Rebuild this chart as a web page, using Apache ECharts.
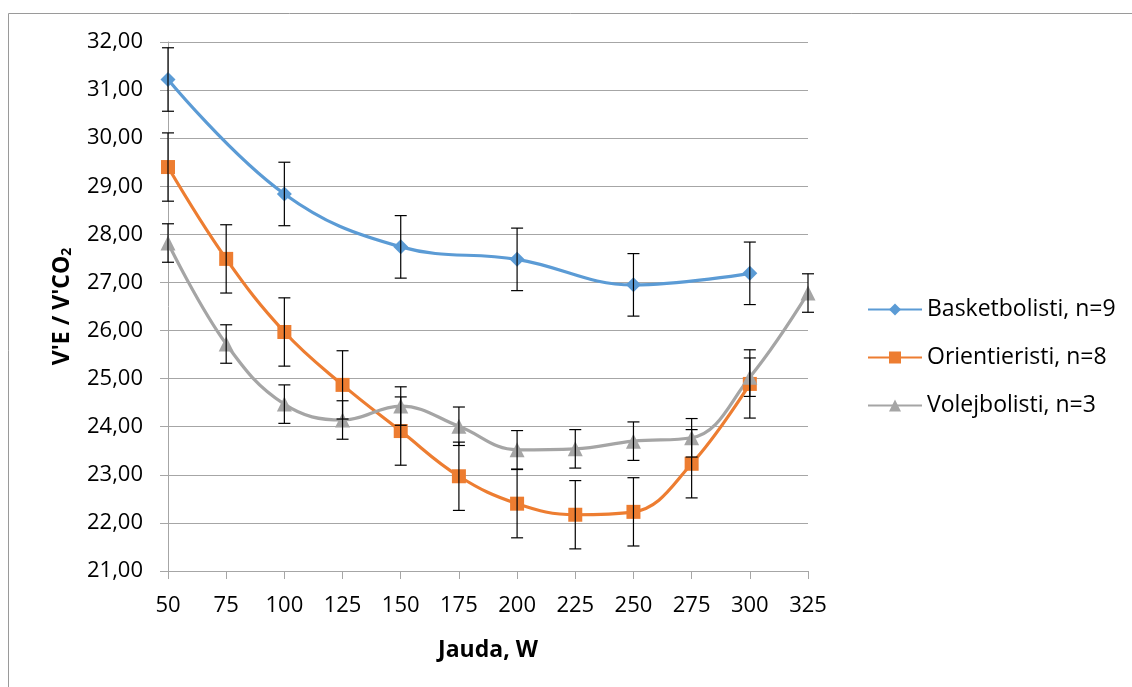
<!DOCTYPE html>
<html>
<head>
<meta charset="utf-8">
<script src="https://cdn.jsdelivr.net/npm/echarts@6/dist/echarts.min.js"></script>
<style>
html,body{margin:0;padding:0;background:#fff;}
#c{width:1132px;height:687px;}
</style>
</head>
<body>
<div id="c"></div>
<script>
// Data
var seriesNames = ['Basketbolisti, n=9', 'Orientieristi, n=8', 'Volejbolisti, n=3'];
var xTicks = [50, 75, 100, 125, 150, 175, 200, 225, 250, 275, 300, 325];

var basketX = [50, 100, 150, 200, 250, 300];
var basketY = [31.22, 28.84, 27.74, 27.48, 26.95, 27.19];
var basketErr = [0.66, 0.66, 0.65, 0.65, 0.65, 0.65];

var orientX = [50, 75, 100, 125, 150, 175, 200, 225, 250, 275, 300];
var orientY = [29.40, 27.49, 25.97, 24.87, 23.91, 22.97, 22.40, 22.17, 22.23, 23.23, 24.89];
var orientErr = [0.71, 0.71, 0.71, 0.71, 0.71, 0.71, 0.71, 0.71, 0.71, 0.71, 0.71];

var volejX = [50, 75, 100, 125, 150, 175, 200, 225, 250, 275, 300, 325];
var volejY = [27.82, 25.72, 24.47, 24.14, 24.43, 24.01, 23.52, 23.54, 23.70, 23.77, 25.03, 26.78];
var volejErr = [0.40, 0.40, 0.40, 0.40, 0.40, 0.40, 0.40, 0.40, 0.40, 0.40, 0.40, 0.40];

var colors = ['#5B9BD5', '#ED7D31', '#A5A5A5'];
var font = '"Open Sans", Lato, sans-serif';

function pairs(xs, ys) { return xs.map(function (x, i) { return [x, ys[i]]; }); }
function errData(xs, ys, es) { return xs.map(function (x, i) { return [x, ys[i] - es[i], ys[i] + es[i]]; }); }

function errRender(params, api) {
  var x = api.value(0);
  var lo = api.coord([x, api.value(1)]);
  var hi = api.coord([x, api.value(2)]);
  var hw = 6;
  var st = { stroke: '#000', lineWidth: 1.2 };
  return {
    type: 'group',
    children: [
      { type: 'line', shape: { x1: lo[0], y1: lo[1], x2: hi[0], y2: hi[1] }, style: st },
      { type: 'line', shape: { x1: lo[0] - hw, y1: lo[1], x2: lo[0] + hw, y2: lo[1] }, style: st },
      { type: 'line', shape: { x1: hi[0] - hw, y1: hi[1], x2: hi[0] + hw, y2: hi[1] }, style: st }
    ]
  };
}

var chart = echarts.init(document.getElementById('c'));
var lineCommon = { type: 'line', smooth: 0.4, lineStyle: { width: 3.2 }, z: 3 };

chart.setOption({
  animation: false,
  color: colors,
  grid: { left: 168, right: 324, top: 42, bottom: 116, containLabel: false },
  graphic: [
    { type: 'line', shape: { x1: 8.5, y1: 13.5, x2: 1132, y2: 13.5 }, style: { stroke: '#9a9a9a', lineWidth: 1 } },
    { type: 'line', shape: { x1: 8.5, y1: 13.5, x2: 8.5, y2: 687 }, style: { stroke: '#9a9a9a', lineWidth: 1 } }
  ],
  legend: {
    orient: 'vertical',
    left: 867,
    top: 298,
    padding: 0,
    itemWidth: 54,
    itemHeight: 15,
    itemGap: 25,
    textStyle: { fontFamily: font, fontSize: 23, color: '#000' },
    data: seriesNames
  },
  xAxis: {
    type: 'value',
    min: 50, max: 325, interval: 25,
    name: 'Jauda, W',
    nameLocation: 'middle',
    nameGap: 68,
    nameTextStyle: { fontFamily: font, fontSize: 23, fontWeight: 'bold', color: '#000' },
    axisLine: { show: true, lineStyle: { color: '#A6A6A6', width: 1 } },
    axisTick: { show: true, length: 8, lineStyle: { color: '#A6A6A6' } },
    axisLabel: { fontFamily: font, fontSize: 22, color: '#000', margin: 24 },
    splitLine: { show: false }
  },
  yAxis: {
    type: 'value',
    min: 21, max: 32, interval: 1,
    name: "V'E / V'CO{sub|2}",
    nameLocation: 'middle',
    nameGap: 94,
    nameRotate: 90,
    nameTextStyle: {
      fontFamily: font, fontSize: 23, fontWeight: 'bold', color: '#000',
      rich: { sub: { fontFamily: font, fontSize: 14, fontWeight: 'bold', color: '#000', verticalAlign: 'bottom', padding: [10, 0, 0, 0] } }
    },
    axisLine: { show: true, lineStyle: { color: '#A6A6A6', width: 1 } },
    axisTick: { show: true, length: 8, lineStyle: { color: '#A6A6A6' } },
    axisLabel: {
      fontFamily: font, fontSize: 22, color: '#000', margin: 25,
      formatter: function (v) { return v.toFixed(2).replace('.', ','); }
    },
    splitLine: { show: true, lineStyle: { color: '#A6A6A6', width: 1 } }
  },
  series: [
    Object.assign({}, lineCommon, { name: seriesNames[0], data: pairs(basketX, basketY), symbol: 'diamond', symbolSize: 15, itemStyle: { color: colors[0] } }),
    Object.assign({}, lineCommon, { name: seriesNames[1], data: pairs(orientX, orientY), symbol: 'rect', symbolSize: 14, itemStyle: { color: colors[1] } }),
    Object.assign({}, lineCommon, { name: seriesNames[2], data: pairs(volejX, volejY), symbol: 'triangle', symbolSize: 15, itemStyle: { color: colors[2] } }),
    { type: 'custom', name: 'errB', renderItem: errRender, data: errData(basketX, basketY, basketErr), z: 5, encode: { x: 0, y: [1, 2] }, silent: true },
    { type: 'custom', name: 'errO', renderItem: errRender, data: errData(orientX, orientY, orientErr), z: 5, encode: { x: 0, y: [1, 2] }, silent: true },
    { type: 'custom', name: 'errV', renderItem: errRender, data: errData(volejX, volejY, volejErr), z: 5, encode: { x: 0, y: [1, 2] }, silent: true }
  ]
});
</script>
</body>
</html>
